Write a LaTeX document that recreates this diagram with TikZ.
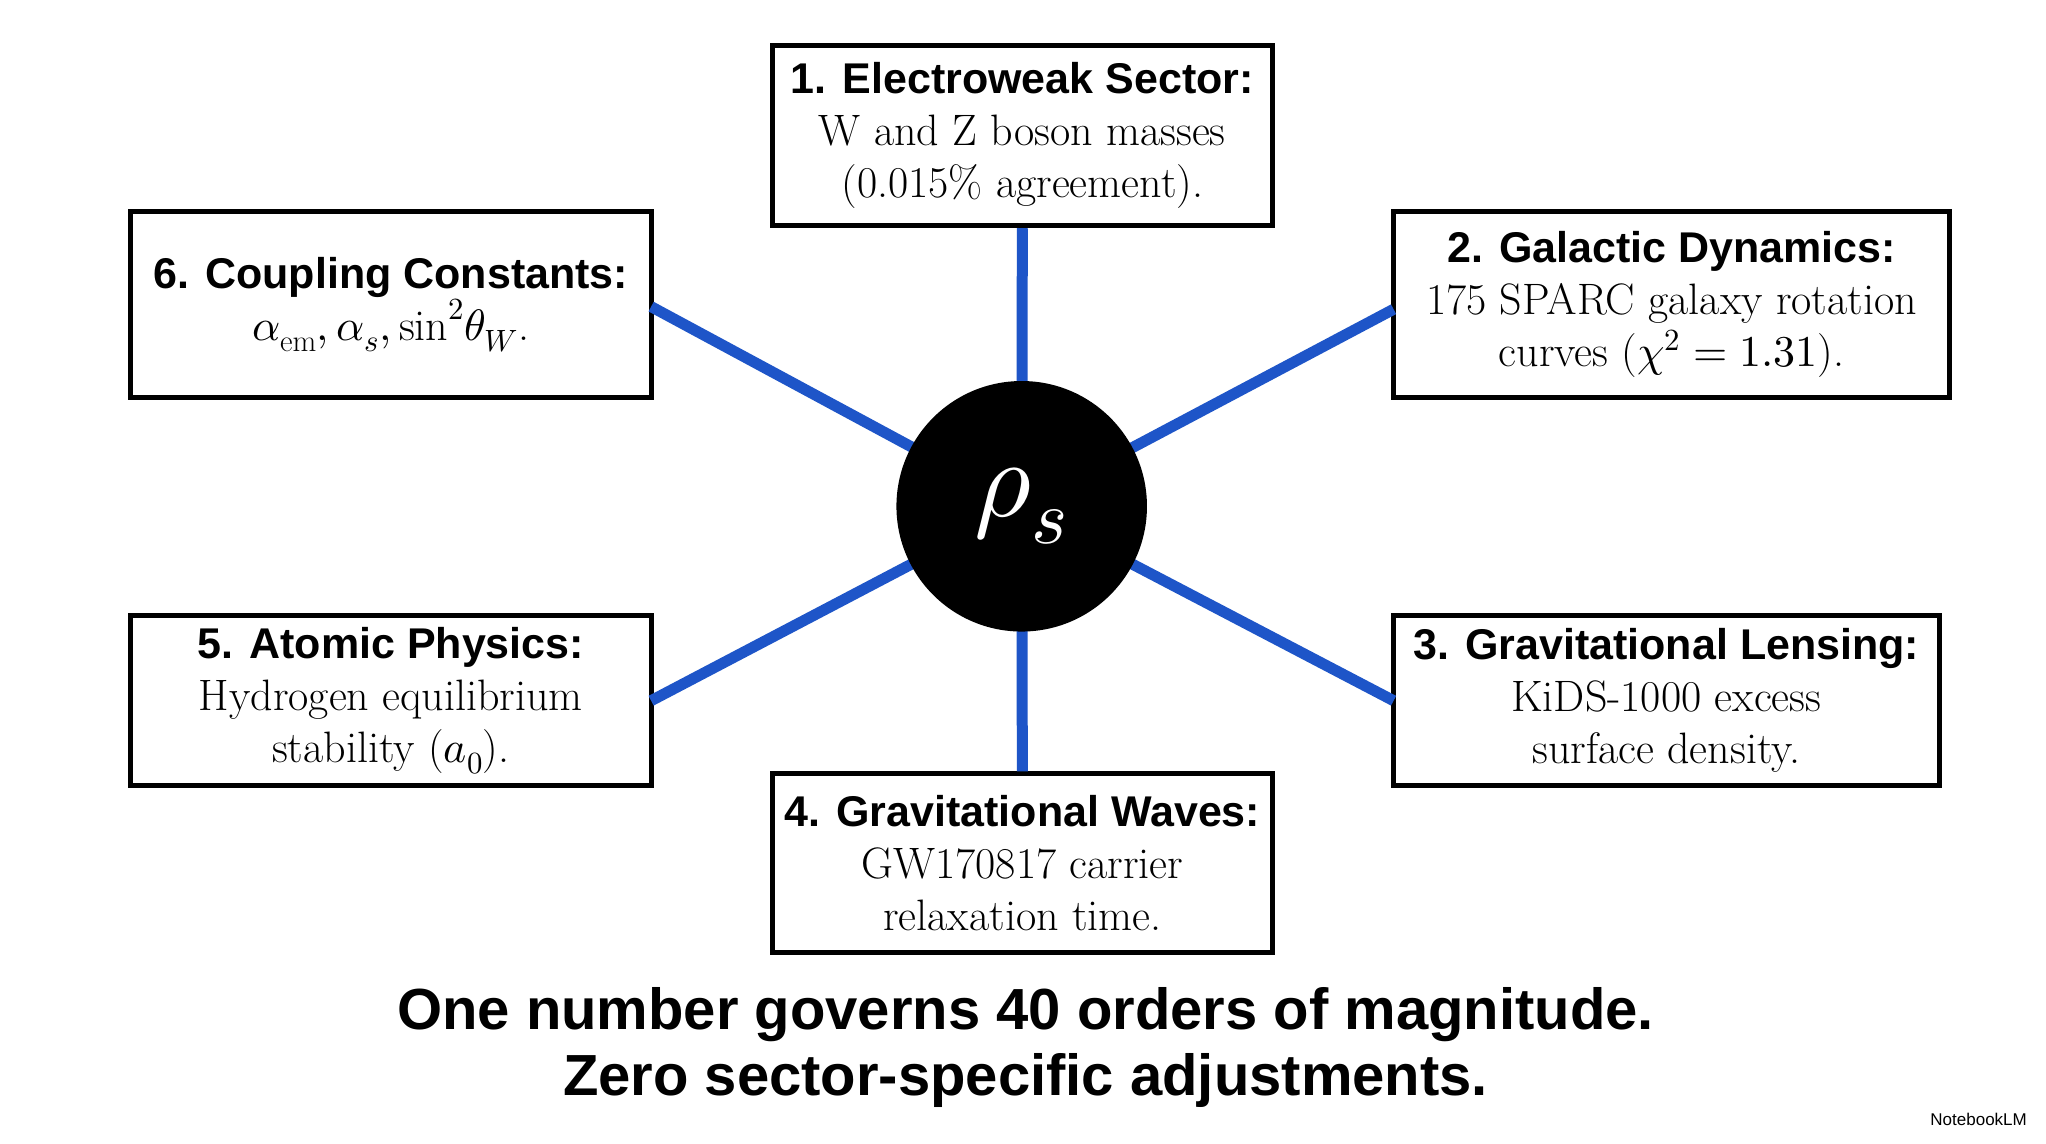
\documentclass[tikz,border=0pt]{standalone}
\usepackage{unicode-math}
\setmathfont{Latin Modern Math}
\setsansfont{Liberation Sans}
\newcommand{\hd}[1]{{\sffamily\bfseries\fontsize{43}{52}\selectfont #1}}
\begin{document}
\begin{tikzpicture}[x=1.305pt,y=-1.305pt,
 box/.style={draw,line width=5pt,fill=white,inner sep=0pt,align=center,font=\fontsize{44}{52}\selectfont},
 ln/.style={line width=11pt,draw={rgb,255:red,30;green,85;blue,200}}]
\useasboundingbox[fill=white] (0,0) rectangle (1568,876);
\node[box,minimum width=383*1.305pt,minimum height=138*1.305pt] (b1) at (783.5,104) {\hd{1. Electroweak Sector:}\\W and Z boson masses\\(0.015\% agreement).};
\node[box,minimum width=426*1.305pt,minimum height=143*1.305pt] (b2) at (1281,233.5) {\hd{2. Galactic Dynamics:}\\175 SPARC galaxy rotation\\curves ($\chi^2=1.31$).};
\node[box,minimum width=418*1.305pt,minimum height=130*1.305pt] (b3) at (1277,537) {\hd{3. Gravitational Lensing:}\\KiDS-1000 excess\\surface density.};
\node[box,minimum width=383*1.305pt,minimum height=137*1.305pt] (b4) at (783.5,661.5) {\hd{4. Gravitational Waves:}\\GW170817 carrier\\relaxation time.};
\node[box,minimum width=399*1.305pt,minimum height=130*1.305pt] (b5) at (299.5,537) {\hd{5. Atomic Physics:}\\Hydrogen equilibrium\\stability ($a_0$).};
\node[box,minimum width=399*1.305pt,minimum height=143*1.305pt] (b6) at (299.5,233.5) {\hd{6. Coupling Constants:}\\$\alpha_{\mathrm{em}},\alpha_s,\sin^2\!\theta_W$.};
\coordinate (c) at (783,388);
\draw[ln] (c) -- (b1.south);
\draw[ln] (c) -- (1068,237);
\draw[ln] (c) -- (1068,537);
\draw[ln] (c) -- (b4.north);
\draw[ln] (c) -- (499,537);
\draw[ln] (c) -- (499,235);
\node[circle,fill=black,minimum size=192*1.305pt,text=white,font=\fontsize{110}{110}\selectfont] (rho) at (c) {$\rho_s$};
\node[font=\sffamily\bfseries\fontsize{58}{66}\selectfont,align=center] (t) at (786,803) {One number governs 40 orders of magnitude.\\Zero sector-specific adjustments.};
\node[font=\sffamily\fontsize{17}{20}\selectfont,anchor=east] (w) at (1556,858) {NotebookLM};
\end{tikzpicture}
\end{document}
